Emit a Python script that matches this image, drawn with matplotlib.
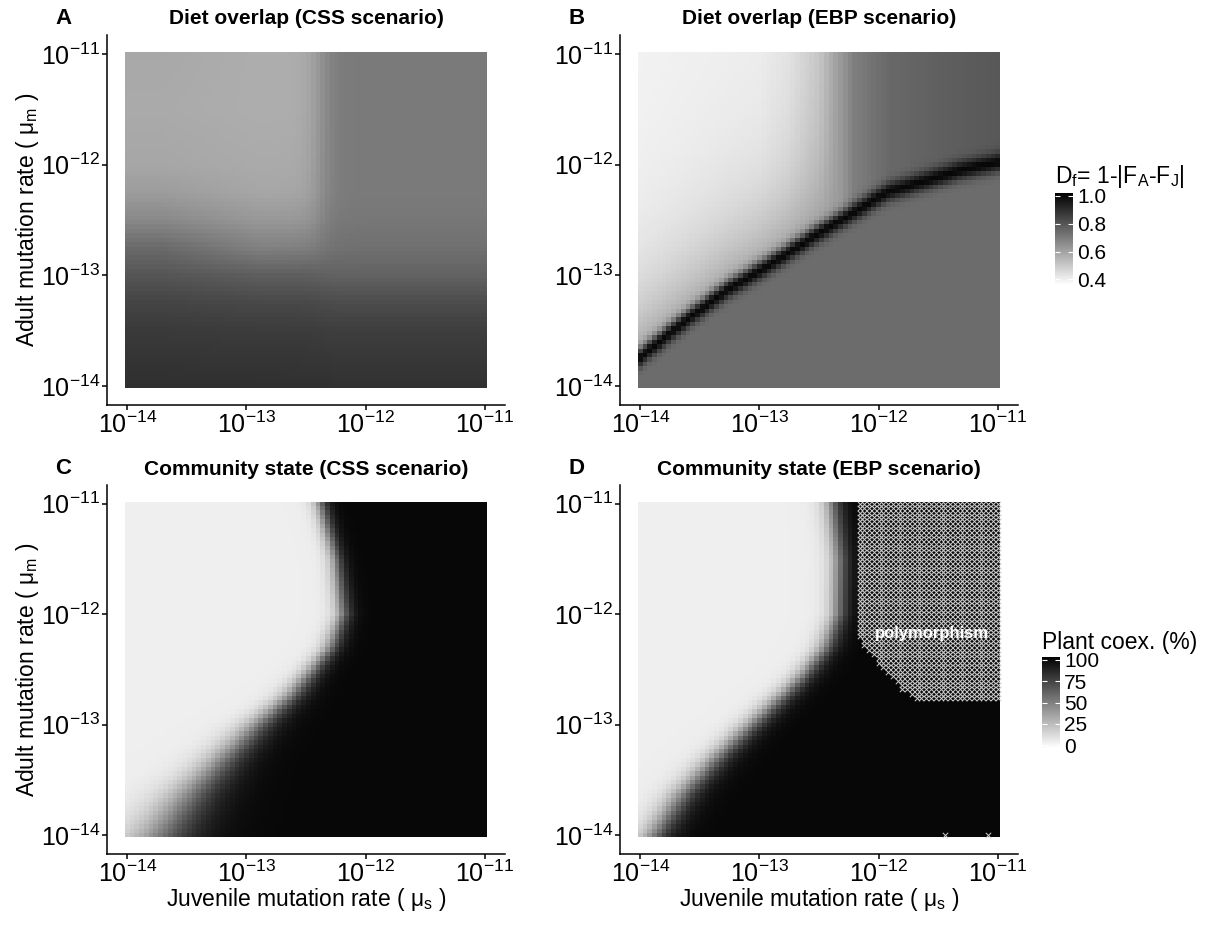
import numpy as np
import matplotlib
matplotlib.use("Agg")
import matplotlib.pyplot as plt
from matplotlib.colors import LinearSegmentedColormap, Normalize
from matplotlib.ticker import NullLocator

plt.rcParams["font.family"] = ["Liberation Sans", "DejaVu Sans"]
plt.rcParams["mathtext.fontset"] = "custom"
plt.rcParams["mathtext.rm"] = "Liberation Sans"
plt.rcParams["mathtext.it"] = "Liberation Sans:italic"
plt.rcParams["mathtext.bf"] = "Liberation Sans:bold"

# simulation grid (log10 of the mutation rates), 76 steps over 3 decades
GRID = np.linspace(-14, -11, 76)

# --- A: diet overlap, CSS scenario (values read along three vertical transects)
A_ROWS_Y = [-11.0, -11.5, -12.0, -12.25, -12.5, -12.75, -13.0, -13.25, -13.5, -14.0]
A_LEFT = [0.585, 0.580, 0.590, 0.616, 0.668, 0.746, 0.800, 0.844, 0.870, 0.898]   # mu_s ~ 1e-13.7
A_MID = [0.572, 0.572, 0.580, 0.590, 0.627, 0.689, 0.777, 0.834, 0.865, 0.896]    # mu_s ~ 1e-12.9
A_RIGHT = [0.704, 0.704, 0.704, 0.704, 0.712, 0.730, 0.766, 0.823, 0.860, 0.893]  # mu_s ~ 1e-11.5
A_SWITCH_X = -12.38

# --- B: diet overlap, EBP scenario
B_RIDGE_X = [-14.0, -13.62, -13.28, -12.89, -12.5, -12.22, -11.93, -11.65, -11.31, -11.0]
B_RIDGE_Y = [-13.74, -13.41, -13.14, -12.89, -12.62, -12.44, -12.25, -12.16, -12.05, -11.98]
B_TOP_X = [-14.0, -13.0, -12.75, -12.5, -12.35, -12.2, -11.9, -11.4, -11.0]
B_TOP = [0.394, 0.404, 0.430, 0.502, 0.606, 0.694, 0.751, 0.777, 0.792]
B_NEAR_RIDGE = 0.62
B_BELOW = 0.74
B_PEAK = 1.0

# --- C / D: plant coexistence (%), edge of the white region per mu_m row
C_EDGE_Y = [-11.0, -11.5, -12.0, -12.3, -12.57, -12.75, -13.0, -13.33, -13.63, -14.0]
C_EDGE_X = [-12.38, -12.25, -12.19, -12.29, -12.49, -12.63, -12.9, -13.2, -13.46, -13.72]
C_EDGE_W = [0.04, 0.04, 0.045, 0.05, 0.06, 0.07, 0.09, 0.11, 0.14, 0.17]
D_EDGE_Y = [-11.0, -11.5, -12.0, -12.3, -12.57, -12.72, -13.0, -13.33, -13.63, -14.0]
D_EDGE_X = [-12.39, -12.33, -12.34, -12.44, -12.64, -12.78, -13.06, -13.38, -13.64, -13.88]
D_EDGE_W = [0.05, 0.05, 0.05, 0.055, 0.06, 0.065, 0.07, 0.075, 0.08, 0.08]
COEX_LOW = 4
COEX_HIGH = 100

# polymorphism zone in D
POLY_X0 = -12.19
POLY_X = [-12.19, -12.0, -11.8, -11.65, -11.0]
POLY_YMIN = [-12.2, -12.45, -12.68, -12.79, -12.79]
POLY_EXTRA_X = [-11.44, -11.08]
POLY_EXTRA_Y = [-14.0, -14.0]

TICKS = [-14, -13, -12, -11]
TICK_LABELS = [r"$10^{-14}$", r"$10^{-13}$", r"$10^{-12}$", r"$10^{-11}$"]

GREY = LinearSegmentedColormap.from_list("wb", ["#ffffff", "#000000"])
W, H = 1211, 926


def field_a():
    X, Y = np.meshgrid(GRID, GRID)
    left = np.interp(-Y, -np.array(A_ROWS_Y), A_LEFT)
    mid = np.interp(-Y, -np.array(A_ROWS_Y), A_MID)
    right = np.interp(-Y, -np.array(A_ROWS_Y), A_RIGHT)
    t = np.clip((X + 13.7) / 0.8, 0, 1)
    lm = left * (1 - t) + mid * t
    s = 1 / (1 + np.exp(-(X - A_SWITCH_X) / 0.06))
    return lm * (1 - s) + right * s


def field_b():
    X, Y = np.meshgrid(GRID, GRID)
    ridge = np.interp(X, B_RIDGE_X, B_RIDGE_Y)
    d = Y - ridge
    top = np.interp(X, B_TOP_X, B_TOP)
    above = top + np.clip(B_NEAR_RIDGE - top, 0, None) * np.exp(-np.clip(d, 0, None) / 0.55)
    s = 1 / (1 + np.exp(-d / 0.04))
    base = B_BELOW * (1 - s) + above * s
    return base + (B_PEAK - base) * np.exp(-0.5 * (d / 0.06) ** 2)


def field_coex(ey, ex, ew):
    X, Y = np.meshgrid(GRID, GRID)
    edge = np.interp(-Y, -np.array(ey), ex)
    w = np.interp(-Y, -np.array(ey), ew)
    return COEX_LOW + (COEX_HIGH - COEX_LOW) / (1 + np.exp(-(X - edge) / w))


def style_axes(ax):
    ax.set_xscale("log")
    ax.set_yscale("log")
    lim = (10 ** -14.17, 10 ** -10.83)
    ax.set_xlim(*lim)
    ax.set_ylim(*lim)
    t = [10.0 ** k for k in TICKS]
    ax.set_xticks(t, TICK_LABELS)
    ax.set_yticks(t, TICK_LABELS)
    ax.xaxis.set_minor_locator(NullLocator())
    ax.yaxis.set_minor_locator(NullLocator())
    for s in ("top", "right"):
        ax.spines[s].set_visible(False)
    for s in ("left", "bottom"):
        ax.spines[s].set_linewidth(1.1)
    ax.tick_params(length=3.5, width=1.1, labelsize=18, pad=1.5, colors="black")


def draw(ax, field, norm):
    edges = 10 ** np.append(GRID - 0.02, GRID[-1] + 0.02)
    ax.pcolormesh(edges, edges, field, cmap=GREY, norm=norm, shading="flat",
                  antialiased=False, linewidth=0)
    style_axes(ax)


fig = plt.figure(figsize=(W / 100, H / 100), dpi=100)

def add_ax(x0, y_top, y_bot):
    return fig.add_axes([x0 / W, 1 - y_bot / H, 398 / W, (y_bot - y_top) / H])

axA = add_ax(107, 35, 405)
axB = add_ax(620, 35, 405)
axC = add_ax(107, 485, 854)
axD = add_ax(620, 485, 854)

norm_top = Normalize(0.36, 1.02)
norm_bot = Normalize(-3, 103)

draw(axA, field_a(), norm_top)
draw(axB, field_b(), norm_top)
draw(axC, field_coex(C_EDGE_Y, C_EDGE_X, C_EDGE_W), norm_bot)
draw(axD, field_coex(D_EDGE_Y, D_EDGE_X, D_EDGE_W), norm_bot)

# polymorphism crosses
X, Y = np.meshgrid(GRID, GRID)
mask = (X >= POLY_X0 - 1e-9) & (Y >= np.interp(X, POLY_X, POLY_YMIN) - 1e-9)
px = np.concatenate([X[mask], POLY_EXTRA_X])
py = np.concatenate([Y[mask], POLY_EXTRA_Y])
axD.scatter(10 ** px, 10 ** py, marker="x", s=15, linewidths=0.7,
            color="#d0d0d0", zorder=3)
axD.text(10 ** -11.55, 10 ** -12.17, "polymorphism", color="white",
         fontsize=12, fontweight="bold", ha="center", va="center", zorder=4)

# labels
ylab = "Adult mutation rate ( \u03bc$_\\mathrm{m}$ )"
xlab = "Juvenile mutation rate ( \u03bc$_\\mathrm{s}$ )"
for ax in (axA, axC):
    ax.set_ylabel(ylab, fontsize=16.5)
    ax.yaxis.set_label_coords(-0.165, 0.5)
for ax in (axC, axD):
    ax.set_xlabel(xlab, fontsize=16.5)
    ax.xaxis.set_label_coords(0.5, -0.087)

titles = [("A", 63, 577, 18, "Diet overlap (CSS scenario)", "Diet overlap (EBP scenario)"),
          ("C", 63, 577, 468, "Community state (CSS scenario)", "Community state (EBP scenario)")]
for letter, lx, rx, y, t1, t2 in titles:
    fig.text(lx / W, 1 - y / H, letter, fontsize=16, fontweight="bold", ha="center", va="center")
    fig.text(rx / W, 1 - y / H, chr(ord(letter) + 1), fontsize=16, fontweight="bold",
             ha="center", va="center")
    fig.text(306 / W, 1 - (y + 1) / H, t1, fontsize=15, fontweight="bold", ha="center", va="center")
    fig.text(819 / W, 1 - (y + 1) / H, t2, fontsize=15, fontweight="bold", ha="center", va="center")

# colour bars
cax1 = fig.add_axes([1055 / W, 1 - 285 / H, 18 / W, 92 / H])
cb1 = fig.colorbar(plt.cm.ScalarMappable(norm=norm_top, cmap=GREY), cax=cax1,
                   ticks=[0.4, 0.6, 0.8, 1.0])
cb1.ax.set_yticklabels(["0.4", "0.6", "0.8", "1.0"])
cax2 = fig.add_axes([1042 / W, 1 - 748 / H, 18 / W, 91 / H])
cb2 = fig.colorbar(plt.cm.ScalarMappable(norm=norm_bot, cmap=GREY), cax=cax2,
                   ticks=[0, 25, 50, 75, 100])
for cb in (cb1, cb2):
    cb.outline.set_visible(False)
    cb.ax.yaxis.set_ticks_position("both")
    cb.ax.tick_params(length=3.5, width=0.8, color="white", direction="in",
                      labelsize=15, pad=3, labelleft=False, labelright=True)
fig.text(1055 / W, 1 - 176 / H, "D$_\\mathrm{f}$= 1-|F$_\\mathrm{A}$-F$_\\mathrm{J}$|",
         fontsize=16.5, ha="left", va="center")
fig.text(1042 / W, 1 - 643 / H, "Plant coex. (%)", fontsize=16.5, ha="left", va="center")

fig.savefig("out.png", dpi=100)
